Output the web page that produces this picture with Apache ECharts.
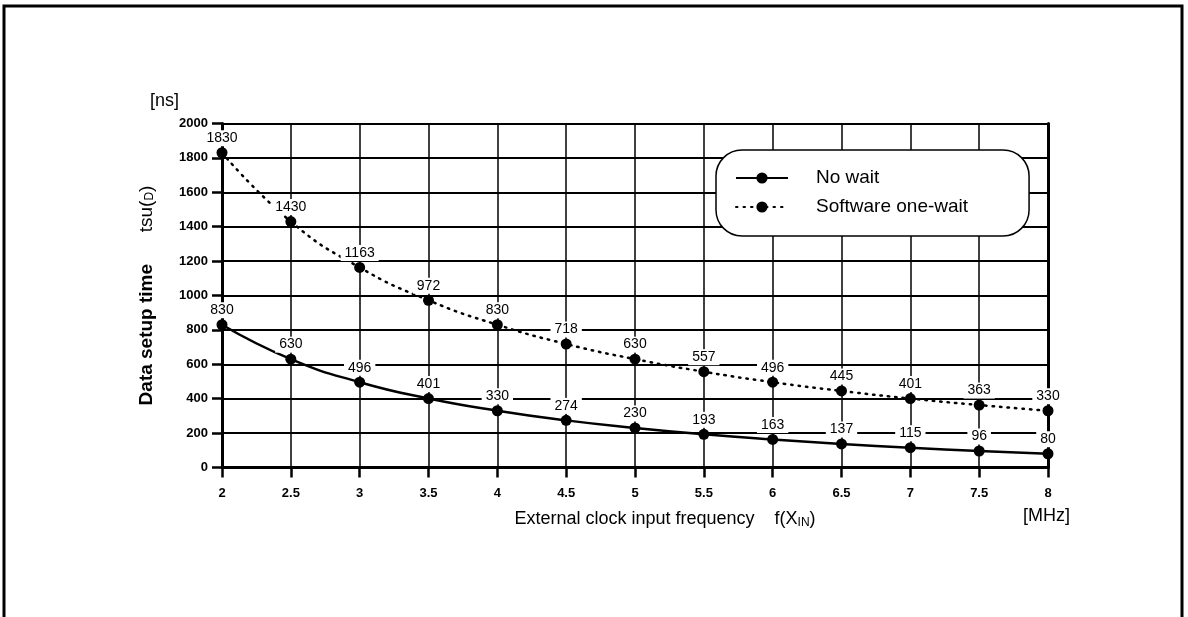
<!DOCTYPE html>
<html>
<head>
<meta charset="utf-8">
<script src="https://cdn.jsdelivr.net/npm/echarts@6/dist/echarts.min.js"></script>
<style>
html,body{margin:0;padding:0;background:#fff;}
#chart{width:1188px;height:617px;}
</style>
</head>
<body>
<div id="chart"></div>
<script>
// Frequencies f(XIN) in MHz
const frequencies = [2, 2.5, 3, 3.5, 4, 4.5, 5, 5.5, 6, 6.5, 7, 7.5, 8];
// Data setup time tsu(D) in ns
const noWait = [830, 630, 496, 401, 330, 274, 230, 193, 163, 137, 115, 96, 80];
const softwareOneWait = [1830, 1430, 1163, 972, 830, 718, 630, 557, 496, 445, 401, 363, 330];
const seriesNames = ['No wait', 'Software one-wait'];

const FONT = '"Liberation Sans", Arial, Helvetica, sans-serif';

const chart = echarts.init(document.getElementById('chart'), null, {renderer: 'canvas'});

const labelStyle = {
  show: true,
  position: 'top',
  distance: 1,
  fontFamily: FONT,
  fontSize: 14,
  color: '#000',
  backgroundColor: '#fff',
  padding: [1, 4],
  formatter: p => String(p.value[1])
};

const option = {
  backgroundColor: '#fff',
  animation: false,
  textStyle: {fontFamily: FONT, color: '#000'},
  grid: {left: 222, right: 140, top: 123.5, bottom: 149.5, containLabel: false},
  legend: {
    left: 716, top: 150,
    orient: 'vertical',
    backgroundColor: '#fff',
    borderColor: '#000',
    borderWidth: 1.5,
    borderRadius: 26,
    padding: [18, 61, 19, 19],
    itemWidth: 52,
    itemHeight: 14,
    itemGap: 9,
    textStyle: {fontFamily: FONT, fontSize: 19, color: '#000', lineHeight: 20, padding: [0, 0, 0, 23]},
    data: seriesNames
  },
  xAxis: {
    type: 'value',
    min: 2, max: 8, interval: 0.5,
    name: '{a|External clock input frequency    f(X}{s|IN}{a|)}',
    nameLocation: 'middle',
    nameGap: 43,
    nameTextStyle: {
      padding: [0, 0, 0, 60],
      rich: {
        a: {fontFamily: FONT, fontSize: 18, color: '#000'},
        s: {fontFamily: FONT, fontSize: 12, color: '#000', verticalAlign: 'bottom', padding: [6, 0, 0, 0]}
      }
    },
    axisLine: {show: true, lineStyle: {color: '#000', width: 3}},
    axisTick: {show: true, length: 10, lineStyle: {color: '#000', width: 2.5}},
    axisLabel: {margin: 19, fontFamily: FONT, fontSize: 13, fontWeight: 'bold', color: '#000', formatter: v => String(v)},
    splitLine: {show: true, lineStyle: {color: '#000', width: 1.5}}
  },
  yAxis: [{
    type: 'value',
    min: 0, max: 2000, interval: 200,
    name: '{b|Data setup time}{a|      tsu(}{s|D}{a|)}',
    nameLocation: 'middle',
    nameRotate: 90,
    nameGap: 66,
    nameTextStyle: {
      rich: {
        b: {fontFamily: FONT, fontSize: 19, fontWeight: 'bold', color: '#000'},
        a: {fontFamily: FONT, fontSize: 19, color: '#000'},
        s: {fontFamily: FONT, fontSize: 12, color: '#000', verticalAlign: 'bottom', padding: [6, 0, 0, 0]}
      }
    },
    axisLine: {show: true, lineStyle: {color: '#000', width: 3}},
    axisTick: {show: true, length: 10, lineStyle: {color: '#000', width: 2.5}},
    axisLabel: {margin: 14, fontFamily: FONT, fontSize: 13, fontWeight: 'bold', color: '#000', formatter: v => String(v)},
    splitLine: {show: true, lineStyle: {color: '#000', width: 1.8}}
  }, {
    type: 'value',
    position: 'right',
    min: 0, max: 2000, interval: 200,
    axisLine: {show: true, lineStyle: {color: '#000', width: 3}},
    axisTick: {show: false},
    axisLabel: {show: false},
    splitLine: {show: false}
  }],
  graphic: [
    {type: 'rect', shape: {x: 4, y: 6, width: 1178, height: 660}, style: {fill: 'none', stroke: '#000', lineWidth: 3}, z: 100},
    {type: 'text', left: 150, top: 92, style: {text: '[ns]', fontFamily: FONT, fontSize: 18, fill: '#000'}},
    {type: 'text', left: 1023, top: 507, style: {text: '[MHz]', fontFamily: FONT, fontSize: 18, fill: '#000'}}
  ],
  series: [{
    name: seriesNames[0],
    type: 'line',
    smooth: 0.5,
    symbol: 'circle',
    symbolSize: 11,
    itemStyle: {color: '#000'},
    lineStyle: {color: '#000', width: 2.5},
    label: labelStyle,
    data: frequencies.map((f, i) => [f, noWait[i]]),
    z: 3
  }, {
    name: seriesNames[1],
    type: 'line',
    smooth: 0.5,
    symbol: 'circle',
    symbolSize: 11,
    itemStyle: {color: '#000'},
    lineStyle: {color: '#000', width: 2.5, type: [1.5, 6], cap: 'round'},
    label: labelStyle,
    data: frequencies.map((f, i) => [f, softwareOneWait[i]]),
    z: 3
  }]
};

chart.setOption(option);
</script>
</body>
</html>
